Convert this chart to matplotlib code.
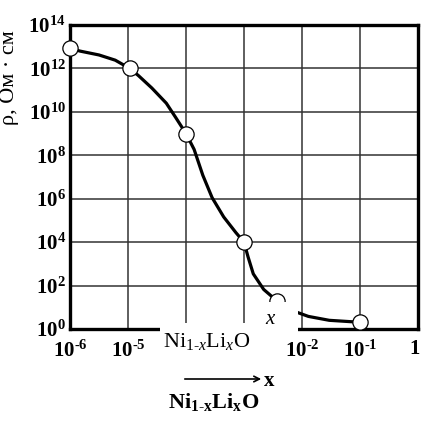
import numpy as np
import matplotlib
matplotlib.use("Agg")
from matplotlib import pyplot as plt
from matplotlib.patches import Rectangle, FancyArrowPatch
from matplotlib.transforms import ScaledTranslation

plt.rcParams["font.family"] = ["Liberation Serif", "DejaVu Serif"]
plt.rcParams["mathtext.fontset"] = "custom"
plt.rcParams["mathtext.rm"] = "Liberation Serif"
plt.rcParams["mathtext.it"] = "Liberation Serif:italic"
plt.rcParams["mathtext.bf"] = "Liberation Serif:bold"

# measured points (log10 of x and of rho)
point_x_exp = [-6.0, -4.97, -4.0, -3.0, -2.43, -1.0]
point_rho_exp = [12.93, 12.0, 9.0, 4.0, 1.29, 0.31]

# traced curve through the points
curve_x_exp = [-6.0, -5.83, -5.5, -5.22, -4.97, -4.82, -4.59, -4.34, -4.18, -4.0,
               -3.86, -3.71, -3.55, -3.35, -3.14, -3.0, -2.93, -2.84, -2.66,
               -2.43, -2.16, -1.89, -1.53, -1.0]
curve_rho_exp = [12.93, 12.8, 12.62, 12.38, 12.0, 11.67, 11.1, 10.4, 9.75, 9.0,
                 8.27, 7.08, 6.05, 5.16, 4.44, 4.0, 3.32, 2.54, 1.82,
                 1.29, 0.84, 0.58, 0.4, 0.31]

x_tick_exp = [-6, -5, -4, -3, -2, -1, 0]
x_tick_shown = [True, True, False, False, True, True, True]  # -4, -3 sit under the box
y_tick_exp = [0, 2, 4, 6, 8, 10, 12, 14]

W, H = 422, 424
fig = plt.figure(figsize=(W / 100, H / 100), dpi=100)
ax = fig.add_axes([70 / W, 1 - 329 / H, 348 / W, 304 / H])

ax.set_xscale("log")
ax.set_yscale("log")
ax.set_xlim(1e-6, 1)
ax.set_ylim(1, 1e14)

ax.plot(10.0 ** np.array(curve_x_exp), 10.0 ** np.array(curve_rho_exp),
        color="black", lw=2.3, zorder=3, clip_on=False)
ax.plot(10.0 ** np.array(point_x_exp), 10.0 ** np.array(point_rho_exp), "o",
        ms=11, mfc="white", mec="black", mew=0.9, zorder=5, clip_on=False)


def xlabel_text(e, shown):
    if not shown:
        return ""
    if e == 0:
        return r"$\mathbf{1}$"
    return r"$\mathbf{10^{\text{-}%d}}$" % (-e)


ax.set_xticks([10.0 ** e for e in x_tick_exp])
ax.set_xticklabels([xlabel_text(e, s) for e, s in zip(x_tick_exp, x_tick_shown)])
ax.set_yticks([10.0 ** e for e in y_tick_exp])
ax.set_yticklabels([r"$\mathbf{10^{%d}}$" % e for e in y_tick_exp])
ax.minorticks_off()
ax.tick_params(axis="both", length=0, labelsize=15)
ax.tick_params(axis="x", pad=8)
ax.tick_params(axis="y", pad=3)

# keep the last "1" inside the picture
last = ax.get_xticklabels()[-1]
last.set_transform(last.get_transform() + ScaledTranslation(-0.03, 0, fig.dpi_scale_trans))

ax.grid(True, color="#333333", lw=1.1)
for s in ax.spines.values():
    s.set_linewidth(2.4)
    s.set_color("black")

ax.set_ylabel("ρ, Ом · см", fontsize=16)
ax.yaxis.set_label_coords(-51 / 348, (329 - 78) / 304)

# white boxes that sit over the lower axis
fig.add_artist(Rectangle((160 / W, 1 - 365 / H), 125 / W, 42 / H,
                         transform=fig.transFigure, facecolor="white",
                         edgecolor="none", zorder=10))
fig.add_artist(Rectangle((260 / W, 1 - 340 / H), 38 / W, 38 / H,
                         transform=fig.transFigure, facecolor="white",
                         edgecolor="none", zorder=10))
fig.text(163 / W, 1 - 347 / H, r"Ni$_{1\text{-}x}$Li$_x$O", fontsize=16,
         ha="left", va="baseline", zorder=11)
fig.text(270 / W, 1 - 324 / H, "x", fontsize=15, style="italic",
         ha="center", va="baseline", zorder=11)

# arrow and formula under the chart
fig.add_artist(FancyArrowPatch((182 / W, 1 - 379 / H), (264 / W, 1 - 379 / H),
                               transform=fig.transFigure, arrowstyle="->",
                               mutation_scale=10, lw=1.2, color="black"))
fig.text(264 / W, 1 - 386 / H, "x", fontsize=15, fontweight="bold",
         ha="left", va="baseline")
fig.text(168 / W, 1 - 408 / H,
         r"$\mathbf{Ni}_{\mathbf{1\text{-}x}}\mathbf{Li}_{\mathbf{x}}\mathbf{O}$",
         fontsize=16, ha="left", va="baseline")

fig.savefig("out.png", dpi=100)
